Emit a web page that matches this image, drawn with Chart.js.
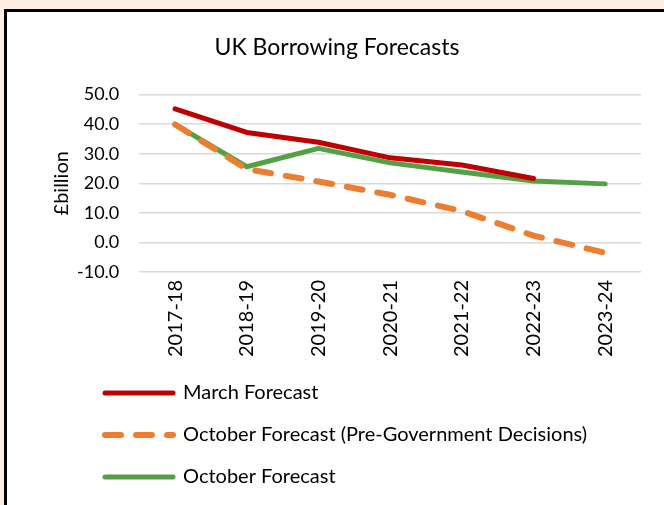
<!DOCTYPE html>
<html>
<head>
<meta charset="utf-8">
<script src="https://cdn.jsdelivr.net/npm/chart.js@4/dist/chart.umd.min.js"></script>
<style>
  html, body { margin: 0; padding: 0; width: 664px; height: 505px; overflow: hidden; background: #fdeee4; }
  #frame {
    position: absolute; left: 4px; top: 9px; width: 700px; height: 600px;
    border: 3px solid #000; background: #fff;
  }
  #wrap { position: absolute; left: 7px; top: 12px; width: 657px; height: 493px; }
</style>
</head>
<body>
<div id="frame"></div>
<div id="wrap"><canvas id="chart"></canvas></div>
<script>
const years = ['2017-18', '2018-19', '2019-20', '2020-21', '2021-22', '2022-23', '2023-24'];
const marchForecast = [45.2, 37.2, 33.9, 28.6, 26.2, 21.6, null];
const octoberPreDecisions = [39.9, 24.8, 20.6, 16.1, 10.6, 2.3, -3.5];
const octoberForecast = [39.9, 25.6, 31.8, 26.9, 23.8, 20.8, 19.8];
const yTicks = [-10, 0, 10, 20, 30, 40, 50];

const fontFamily = 'Lato, "Open Sans", sans-serif';

// push the stacked legend rows to the right, like the original
const legendShift = {
    id: 'legendShift',
    afterLayout(chart) {
        chart.legend.left += 50;
        chart.legend.right += 50;
    }
};

new Chart(document.getElementById('chart'), {
    type: 'line',
    data: {
        labels: years,
        datasets: [
            {
                label: 'March Forecast',
                data: marchForecast,
                borderColor: '#c00000',
                backgroundColor: '#c00000',
                borderWidth: 5,
                borderCapStyle: 'round',
                borderJoinStyle: 'round'
            },
            {
                label: 'October Forecast (Pre-Government Decisions)',
                data: octoberPreDecisions,
                borderColor: '#ed7d31',
                backgroundColor: '#ed7d31',
                borderWidth: 6,
                borderDash: [16, 15],
                borderCapStyle: 'round',
                borderJoinStyle: 'round'
            },
            {
                label: 'October Forecast',
                data: octoberForecast,
                borderColor: '#54a044',
                backgroundColor: '#54a044',
                borderWidth: 5,
                borderCapStyle: 'round',
                borderJoinStyle: 'round'
            }
        ]
    },
    options: {
        responsive: true,
        maintainAspectRatio: false,
        animation: false,
        elements: { point: { radius: 0, hoverRadius: 0 }, line: { tension: 0 } },
        layout: { padding: { left: 26, right: 23, top: 22, bottom: 8 } },
        plugins: {
            title: {
                display: true,
                text: 'UK Borrowing Forecasts',
                color: '#000',
                font: { family: fontFamily, size: 23, weight: 'normal' },
                padding: { top: 0, bottom: 33 }
            },
            legend: {
                position: 'bottom',
                align: 'start',
                labels: {
                    color: '#000',
                    font: { family: fontFamily, size: 20 },
                    usePointStyle: true,
                    pointStyle: 'line',
                    pointStyleWidth: 68,
                    padding: 22,
                    generateLabels(chart) {
                        const items = Chart.defaults.plugins.legend.labels.generateLabels(chart);
                        items.forEach(item => {
                            const ds = chart.data.datasets[item.datasetIndex];
                            item.lineWidth = ds.borderWidth;
                            item.lineDash = ds.borderDash || [];
                            item.lineCap = 'round';
                            item.strokeStyle = ds.borderColor;
                        });
                        return items;
                    }
                }
            },
            tooltip: { enabled: false }
        },
        scales: {
            x: {
                offset: true,
                grid: { display: false, drawTicks: false },
                border: { display: false },
                ticks: {
                    color: '#000',
                    font: { family: fontFamily, size: 20 },
                    minRotation: 90,
                    maxRotation: 90,
                    padding: 8
                },
                afterFit(axis) { axis.height -= 4; }
            },
            y: {
                min: -10,
                max: 50,
                afterBuildTicks(axis) { axis.ticks = yTicks.map(v => ({ value: v })); },
                afterFit(axis) { axis.width -= 20; },
                grid: { color: '#d9d9d9', lineWidth: 1.5, drawTicks: false },
                border: { display: false },
                ticks: {
                    color: '#000',
                    font: { family: fontFamily, size: 18 },
                    padding: 20,
                    callback: v => v.toFixed(1)
                },
                title: {
                    display: true,
                    text: '£billion',
                    color: '#000',
                    font: { family: fontFamily, size: 20 },
                    padding: { top: 17, bottom: 3 }
                }
            }
        }
    },
    plugins: [legendShift]
});
</script>
</body>
</html>
